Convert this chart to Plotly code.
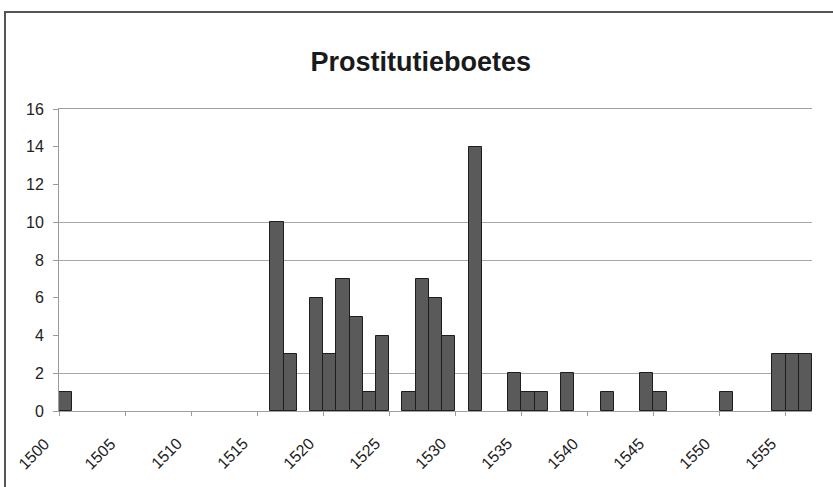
import plotly.graph_objects as go

# Data: yearly counts (years with zero omitted)
years = [1500, 1516, 1517, 1519, 1520, 1521, 1522, 1523, 1524, 1526, 1527, 1528,
         1529, 1531, 1534, 1535, 1536, 1538, 1541, 1544, 1545, 1550, 1554, 1555, 1556]
counts = [1, 10, 3, 6, 3, 7, 5, 1, 4, 1, 7, 6,
          4, 14, 2, 1, 1, 2, 1, 2, 1, 1, 3, 3, 3]
x_tick_years = list(range(1500, 1556, 5))
y_ticks = list(range(0, 17, 2))
visible_grid = [2, 8, 10]
title_text = "Prostitutieboetes"

W, H = 833, 487
L, R, T, B = 59, 21, 109, 76

fig = go.Figure()
fig.add_trace(go.Bar(
    x=years, y=counts, width=1, offset=0,
    marker=dict(color="#5a5a5a", line=dict(color="#1e1e1e", width=1)),
    showlegend=False,
))
# invisible trace for overlay axis carrying the visible gridlines
fig.add_trace(go.Scatter(x=[1530], y=[0], yaxis="y2", mode="markers",
                         marker=dict(opacity=0), showlegend=False, hoverinfo="skip"))

font = "Liberation Sans, Arial, sans-serif"

# rotated year labels, placed just left of / below each tick mark
label_annotations = [
    dict(x=v, y=0, xref="x", yref="y", text=str(v), showarrow=False,
         textangle=-45, xanchor="right", yanchor="top", xshift=-3, yshift=-21,
         font=dict(family=font, size=16, color="#222"))
    for v in x_tick_years
]

fig.update_layout(
    width=W, height=H,
    margin=dict(l=L, r=R, t=T, b=B),
    paper_bgcolor="white", plot_bgcolor="white",
    bargap=0,
    title=dict(text=f"<b>{title_text}</b>", x=0.505, xref="container", xanchor="center",
               y=1 - 62 / H, yref="container", yanchor="middle",
               font=dict(family=font, size=27, color="#1a1a1a")),
    xaxis=dict(range=[1500, 1557], tickmode="array", tickvals=x_tick_years,
               showticklabels=False,
               showgrid=False, zeroline=False, showline=True, mirror=True,
               linecolor="#a0a0a0", automargin=False,
               linewidth=1, ticks="outside", ticklen=4, tickcolor="#9a9a9a"),
    yaxis=dict(range=[0, 16], tickmode="array", tickvals=y_ticks, showgrid=False,
               zeroline=False, showline=True, linecolor="#9a9a9a", linewidth=1,
               automargin=False, ticklabelstandoff=6,
               ticks="outside", ticklen=5, tickcolor="#9a9a9a",
               tickfont=dict(family=font, size=16, color="#222")),
    yaxis2=dict(range=[0, 16], overlaying="y", tickmode="array", tickvals=visible_grid,
                showgrid=True, gridcolor="#a8a8a8", gridwidth=1, showticklabels=False,
                automargin=False,
                zeroline=False, showline=False, layer="below traces"),
    annotations=label_annotations,
    shapes=[dict(type="rect", xref="paper", yref="paper",
                 x0=(5 - L) / (W - L - R), x1=1.2,
                 y0=-0.4, y1=1 + (T - 12) / (H - T - B),
                 line=dict(color="#555", width=2), fillcolor="rgba(0,0,0,0)",
                 layer="above")],
)
fig.write_html("out.html", config={"displayModeBar": False},
               post_script="document.body.style.margin='0';")
